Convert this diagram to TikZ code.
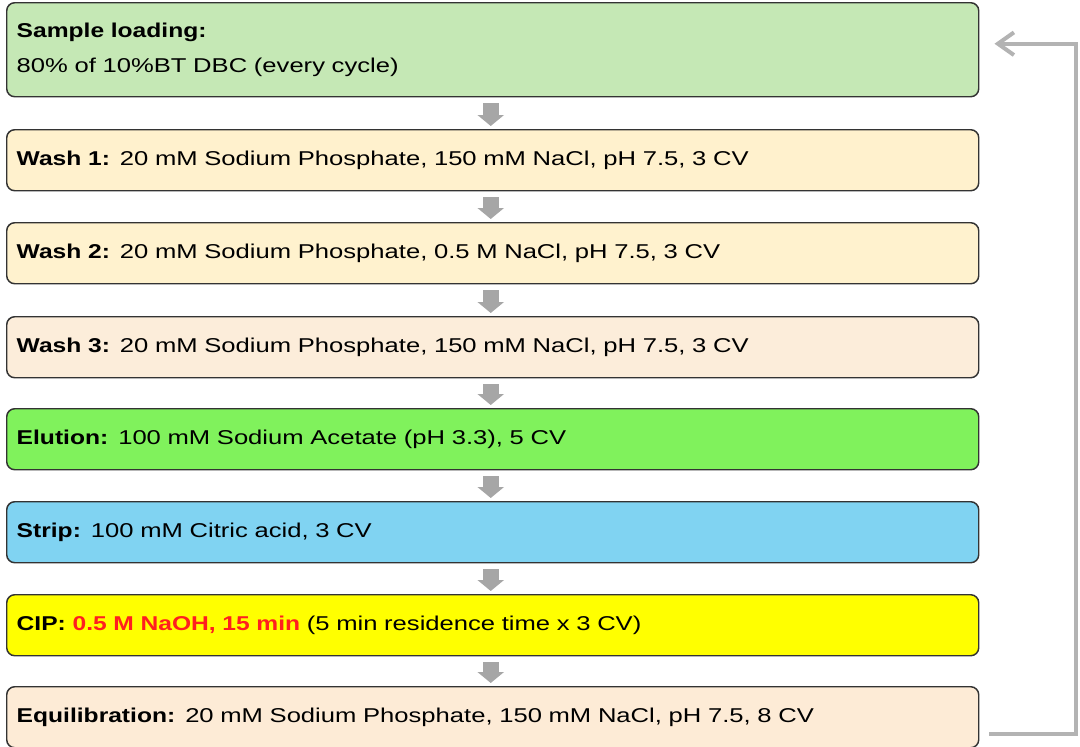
\documentclass[tikz,border=0pt]{standalone}
\usepackage{fontspec}
\setmainfont{Liberation Sans}[FakeStretch=1.28,BoldFeatures={FakeStretch=1.23}]
\usetikzlibrary{arrows.meta}
\definecolor{loadgreen}{HTML}{C5E8B5}
\definecolor{washone}{HTML}{FFF1CD}
\definecolor{washtwo}{HTML}{FFF2CE}
\definecolor{washthree}{HTML}{FCEDDA}
\definecolor{elugreen}{HTML}{80F25C}
\definecolor{stripblue}{HTML}{80D3F2}
\definecolor{cipyellow}{HTML}{FFFF00}
\definecolor{equipeach}{HTML}{FDEBD6}
\definecolor{arrowgray}{HTML}{A6A6A6}
\definecolor{loopgray}{HTML}{B3B3B3}
\definecolor{cipred}{HTML}{FF1F1F}
\tikzset{
	stepbox/.style={draw=black!80,line width=1.1pt,rounded corners=6pt,anchor=north west,
		minimum width=729pt,minimum height=45.75pt,text width=714pt,inner xsep=7.5pt,
		align=left,font=\fontsize{15}{18}\selectfont},
	flow/.style={draw=arrowgray,line width=12pt,-{Triangle[length=8.25pt,width=19.5pt]},
		shorten <=4.5pt,shorten >=2.25pt},
	loopline/.style={draw=loopgray,line width=3pt,-{Straight Barb[length=12pt,width=17pt]},
		shorten <=7.5pt,shorten >=11.25pt}
}
\begin{document}
\begin{tikzpicture}[x={(0.75pt,0)},y={(0,-0.75pt)}]
	\useasboundingbox (0,0) rectangle (1080,746);
	% the eight steps of one cycle
	\node [stepbox,fill=loadgreen,minimum height=70.5pt] (load) at (6,2)
		{\textbf{Sample loading:}\\[8pt]80\% of 10\%BT DBC (every cycle)};
	\node [stepbox,fill=washone] (wash1) at (6,129)
		{\textbf{Wash 1:} 20 mM Sodium Phosphate, 150 mM NaCl, pH 7.5, 3 CV};
	\node [stepbox,fill=washtwo] (wash2) at (6,222)
		{\textbf{Wash 2:} 20 mM Sodium Phosphate, 0.5 M NaCl, pH 7.5, 3 CV};
	\node [stepbox,fill=washthree] (wash3) at (6,316)
		{\textbf{Wash 3:} 20 mM Sodium Phosphate, 150 mM NaCl, pH 7.5, 3 CV};
	\node [stepbox,fill=elugreen] (elution) at (6,408)
		{\textbf{Elution:} 100 mM Sodium Acetate (pH 3.3), 5 CV};
	\node [stepbox,fill=stripblue] (strip) at (6,501)
		{\textbf{Strip:} 100 mM Citric acid, 3 CV};
	\node [stepbox,fill=cipyellow] (cip) at (6,594)
		{\textbf{CIP: \textcolor{cipred}{0.5 M NaOH, 15 min}} (5 min residence time x 3 CV)};
	\node [stepbox,fill=equipeach] (equil) at (6,686)
		{\textbf{Equilibration:} 20 mM Sodium Phosphate, 150 mM NaCl, pH 7.5, 8 CV};
	\foreach \a/\b in {load/wash1,wash1/wash2,wash2/wash3,wash3/elution,elution/strip,strip/cip,cip/equil}
		\draw [flow] ([xshift=-1.5pt]\a.south) -- ([xshift=-1.5pt]\b.north);
	% back to loading
	\draw [loopline] ([yshift=-12.4pt]equil.east) -- ++(72.75pt,0) |- ([yshift=4.5pt]load.east);
\end{tikzpicture}
\end{document}
